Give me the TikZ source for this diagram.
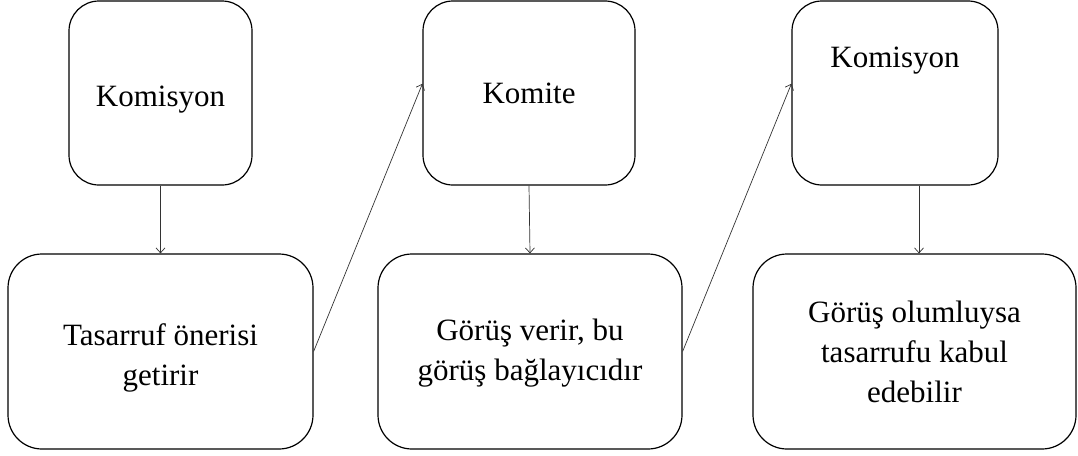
\documentclass[tikz,border=0pt]{standalone}
\usepackage{fontspec}
\setmainfont{Liberation Serif}
\usetikzlibrary{arrows.meta,calc}
\begin{document}
\begin{tikzpicture}[x=1pt,y=-1pt,
  box/.style={draw=black,line width=1.2pt,rounded corners=30pt,inner sep=0pt},
  lbl/.style={inner sep=0pt,align=center,font=\fontsize{31}{40}\selectfont},
  link/.style={draw=black!80,line width=0.7pt,-{Straight Barb[length=5pt,width=9pt]}}]
\useasboundingbox (0,0) rectangle (1078,455);
\node[box,minimum width=183pt,minimum height=184pt] (b1) at (160.5,93) {};
\node[box,minimum width=305pt,minimum height=195pt,rounded corners=34pt] (b2) at (160.5,351.5) {};
\node[box,minimum width=212pt,minimum height=184pt] (b3) at (529,93) {};
\node[box,minimum width=304pt,minimum height=195pt,rounded corners=34pt] (b4) at (530,351.5) {};
\node[box,minimum width=206pt,minimum height=184pt] (b5) at (895,93) {};
\node[box,minimum width=323pt,minimum height=195pt,rounded corners=34pt] (b6) at (914.5,351.5) {};
\node[lbl] (t1) at ([yshift=-7pt]b1.center) {Komisyon};
\node[lbl] (t2) at ([yshift=-6pt]b2.center) {Tasarruf önerisi\\getirir};
\node[lbl] (t3) at (b3.center) {Komite};
\node[lbl] (t4) at ([yshift=-2pt]b4.center) {Görüş verir, bu\\görüş bağlayıcıdır};
\node[lbl] (t5) at (895,61) {Komisyon};
\node[lbl] (t6) at (b6.center) {Görüş olumluysa\\tasarrufu kabul\\edebilir};
\draw[link] (b1.south) -- (b2.north);
\draw[link] (b3.south) -- (b4.north);
\draw[link] ([xshift=4.5pt]b6.north |- b5.south) -- ([xshift=4.5pt]b6.north);
\draw[link] (b2.east) -- ($(b3.north west)!0.45!(b3.south west)$);
\draw[link] (b4.east) -- ($(b5.north west)!0.45!(b5.south west)$);
\end{tikzpicture}
\end{document}
